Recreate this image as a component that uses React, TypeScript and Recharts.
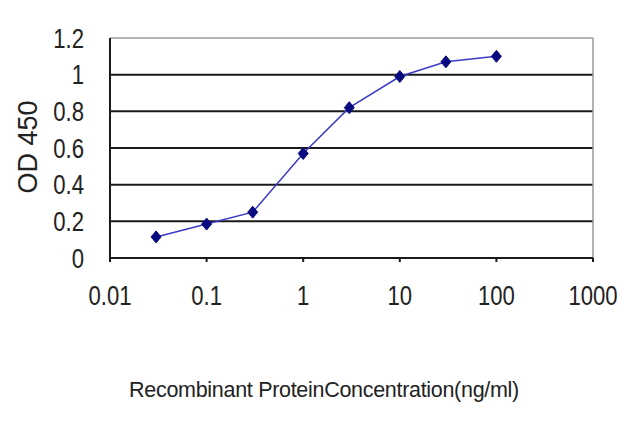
import React from 'react';
import {
  LineChart,
  Line,
  XAxis,
  YAxis,
  CartesianGrid,
  ReferenceLine,
} from 'recharts';

// concentration (ng/ml) vs OD 450
const concentrations = [0.03, 0.1, 0.3, 1, 3, 10, 30, 100];
const odValues = [0.115, 0.185, 0.25, 0.57, 0.82, 0.99, 1.07, 1.1];
const xTicks = [0.01, 0.1, 1, 10, 100, 1000];
const yTicks = [0, 0.2, 0.4, 0.6, 0.8, 1, 1.2];
const gridValues = [0.2, 0.4, 0.6, 0.8, 1];

const data = concentrations.map((c, i) => ({ conc: c, od: odValues[i] }));

const font = '"Liberation Sans", Arial, sans-serif';

// labels in the original are a condensed face, so squeeze them horizontally
const NarrowTick = (props: any) => {
  const { x, y, payload, textAnchor, verticalAnchor } = props;
  const dy = verticalAnchor === 'middle' ? '0.36em' : '0.71em';
  return (
    <g transform={`translate(${x},${y}) scale(0.82,1)`}>
      <text
        x={0}
        y={0}
        dy={dy}
        textAnchor={textAnchor}
        fill="#222"
        fontSize={27}
        fontFamily={font}
      >
        {payload.value}
      </text>
    </g>
  );
};

const Diamond = (props: any) => {
  const { cx, cy } = props;
  if (cx == null || cy == null) return null;
  return (
    <path
      d={`M${cx},${cy - 6} L${cx + 5},${cy} L${cx},${cy + 6} L${cx - 5},${cy} Z`}
      fill="#0a0a80"
      stroke="#0a0a80"
    />
  );
};

export default function App() {
  return (
    <div style={{ position: 'absolute', left: 0, top: 0, width: 640, height: 427, background: '#fff' }}>
      <LineChart
        width={640}
        height={427}
        data={data}
        margin={{ top: 38, right: 47, left: 10, bottom: 89 }}
      >
        <CartesianGrid
          vertical={false}
          horizontalValues={gridValues}
          stroke="#1a1a1a"
          strokeWidth={2}
        />
        <ReferenceLine y={1.2} stroke="#9a9a9a" strokeWidth={1.5} />
        <ReferenceLine x={1000} stroke="#9a9a9a" strokeWidth={1.5} />
        <XAxis
          dataKey="conc"
          type="number"
          scale="log"
          domain={[0.01, 1000]}
          ticks={xTicks}
          allowDataOverflow
          stroke="#1a1a1a"
          strokeWidth={2}
          tickSize={4}
          tickMargin={24}
          tick={<NarrowTick />}
          height={80}
        />
        <YAxis
          domain={[0, 1.2]}
          ticks={yTicks}
          stroke="#1a1a1a"
          strokeWidth={2}
          tickLine={false}
          tickMargin={20}
          tick={<NarrowTick />}
          width={100}
        />
        <Line
          dataKey="od"
          stroke="#3a3ac8"
          strokeWidth={1.5}
          dot={<Diamond />}
          isAnimationActive={false}
        />
      </LineChart>
      <div
        style={{
          position: 'absolute',
          left: 0,
          width: 648,
          top: 378,
          textAlign: 'center',
          fontFamily: font,
          fontSize: 21.5,
          color: '#222',
          letterSpacing: -0.3,
        }}
      >
        Recombinant ProteinConcentration(ng/ml)
      </div>
      <div
        style={{
          position: 'absolute',
          left: 28,
          top: 147,
          transform: 'translate(-50%, -50%) rotate(-90deg)',
          fontFamily: font,
          fontSize: 27,
          color: '#222',
          whiteSpace: 'nowrap',
        }}
      >
        OD 450
      </div>
    </div>
  );
}
